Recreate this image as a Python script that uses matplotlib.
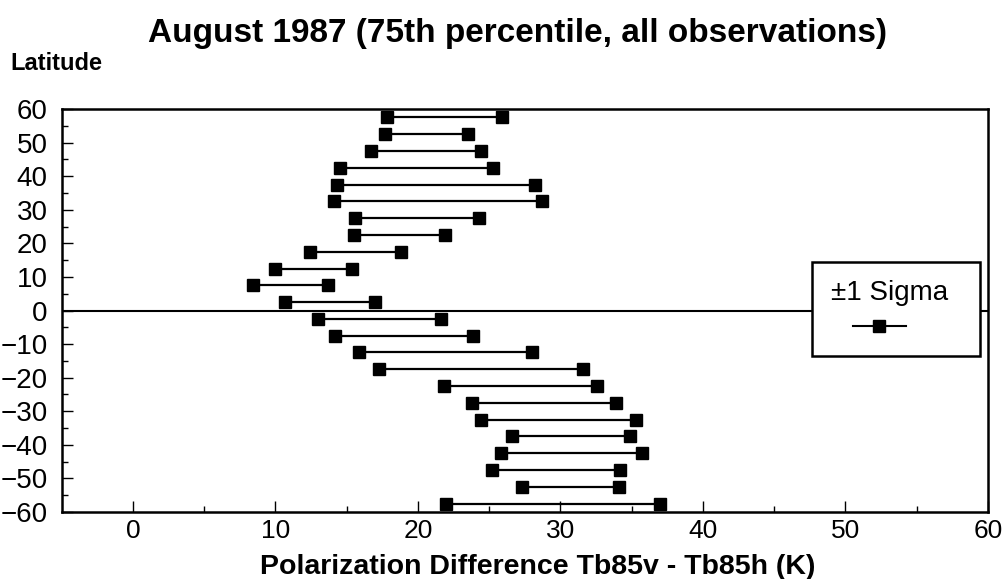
import numpy as np
import matplotlib
matplotlib.use("Agg")
import matplotlib.pyplot as plt
from matplotlib.patches import Rectangle

plt.rcParams['font.family'] = ['Liberation Sans', 'DejaVu Sans']

# 5-degree latitude bands (centres) and the +/-1 sigma range of Tb85v - Tb85h
latitude = [57.5, 52.5, 47.5, 42.5, 37.5, 32.5, 27.5, 22.5, 17.5, 12.5, 7.5, 2.5,
            -2.5, -7.5, -12.5, -17.5, -22.5, -27.5, -32.5, -37.5, -42.5, -47.5, -52.5, -57.5]
low = [17.8, 17.7, 16.7, 14.5, 14.3, 14.1, 15.6, 15.5, 12.4, 10.0, 8.4, 10.7,
       13.0, 14.2, 15.9, 17.3, 21.8, 23.8, 24.4, 26.6, 25.8, 25.2, 27.3, 22.0]
high = [25.9, 23.5, 24.4, 25.3, 28.2, 28.7, 24.3, 21.9, 18.8, 15.4, 13.7, 17.0,
        21.6, 23.9, 28.0, 31.6, 32.6, 33.9, 35.3, 34.9, 35.7, 34.2, 34.1, 37.0]

fig = plt.figure(figsize=(10.08, 5.79), dpi=100)
ax = fig.add_axes([0.0612, 0.1157, 0.9188, 0.696])

# zero-latitude reference line
ax.axhline(0, color='black', lw=1.5, zorder=1)

for lat, lo, hi in zip(latitude, low, high):
    ax.plot([lo, hi], [lat, lat], color='black', lw=1.6, marker='s',
            markersize=8.5, zorder=3, clip_on=False)

ax.set_xlim(-5, 60)
ax.set_ylim(-60, 60)
ax.set_xticks(np.arange(0, 61, 10))
ax.set_xticks(np.arange(5, 60, 10), minor=True)
ax.set_yticks(np.arange(-60, 61, 10))
ax.set_yticks(np.arange(-55, 60, 10), minor=True)
ax.tick_params(which='both', direction='in', top=False, right=False, width=1)
ax.tick_params(axis='x', which='major', labelsize=19, pad=5)
ax.tick_params(axis='y', which='major', labelsize=20, pad=10)
ax.tick_params(which='major', length=8)
ax.tick_params(which='minor', length=4)
for s in ax.spines.values():
    s.set_linewidth(1.8)

ax.set_xlabel('Polarization Difference Tb85v - Tb85h (K)', fontsize=20.5,
              fontweight='bold')
ax.xaxis.set_label_coords(0.514, -0.103)
fig.text(0.01, 0.89, 'Latitude', fontsize=17, fontweight='bold', ha='left', va='center')
fig.text(0.513, 0.942, 'August 1987 (75th percentile, all observations)',
         fontsize=24, fontweight='bold', ha='center', va='center')

# legend box
ax.add_patch(Rectangle((0.81, 0.387), 0.181, 0.233, transform=ax.transAxes,
                       facecolor='white', edgecolor='black', lw=1.8, zorder=5))
ax.text(0.894, 0.543, '±1 Sigma', transform=ax.transAxes, fontsize=20,
        ha='center', va='center', zorder=6)
ax.plot([0.854, 0.912], [0.4615, 0.4615], transform=ax.transAxes, color='black',
        lw=1.5, zorder=6)
ax.plot([0.883], [0.4615], transform=ax.transAxes, color='black', marker='s',
        markersize=8.5, zorder=6)

fig.savefig('out.png', dpi=100)
